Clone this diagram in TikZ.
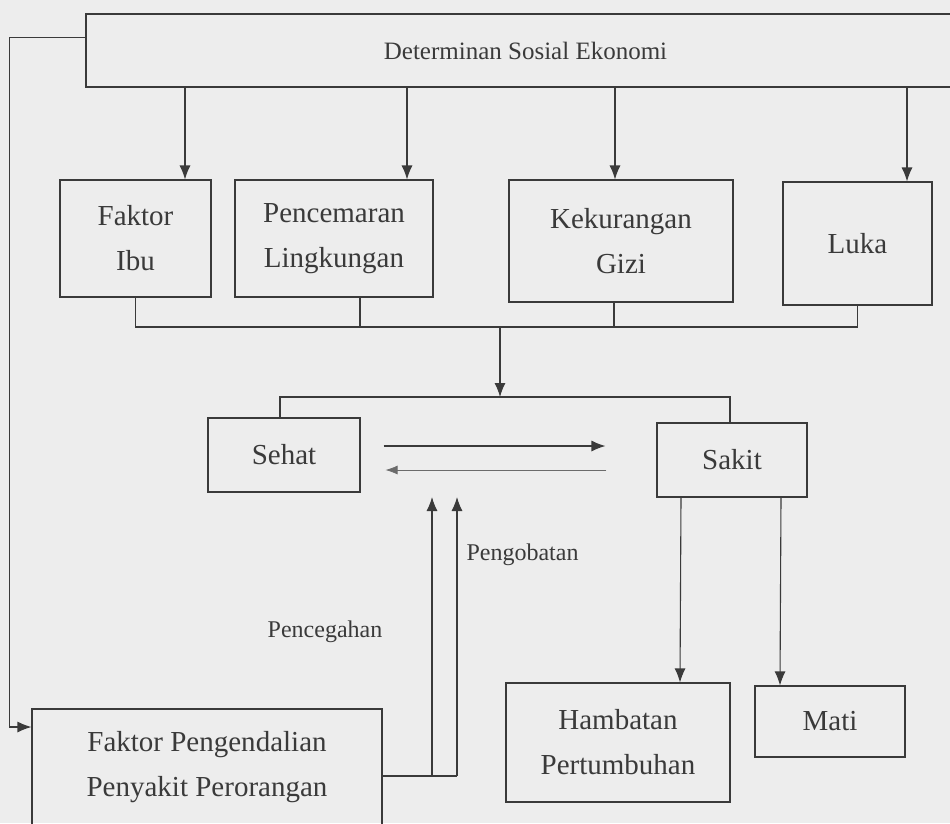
\documentclass[tikz,border=0pt]{standalone}
\usepackage{fontspec}
\setmainfont{Liberation Serif}
\usetikzlibrary{arrows.meta}
\definecolor{ink}{HTML}{3A3A3A}
\definecolor{paper}{HTML}{EDEDED}
\tikzset{
  box/.style={draw=ink,line width=1.1pt,inner sep=0pt,align=center,text=ink,font=\fontsize{29}{45}\selectfont},
  wire/.style={draw=ink,line width=1.1pt},
  arr/.style={wire,-{Latex[length=14pt,width=11pt]}},
  lbl/.style={text=ink,font=\fontsize{24}{28}\selectfont}
}
\begin{document}
\begin{tikzpicture}[x=1pt,y=-1pt]
\useasboundingbox (0,0) rectangle (950,823);
\fill[paper] (0,0) rectangle (950,823);
\clip (0,0) rectangle (950,823);
\node[box,minimum width=879pt,minimum height=73pt,font=\fontsize{25}{30}\selectfont] (det) at (525.5,50.5) {Determinan Sosial Ekonomi};
\node[box,minimum width=151pt,minimum height=117pt] (ibu) at (135.5,238.5) {Faktor\\Ibu};
\node[box,minimum width=198pt,minimum height=117pt] (pcm) at (334,238.5) {Pencemaran\\Lingkungan};
\node[box,minimum width=224pt,minimum height=122pt] (gizi) at (621,241) {Kekurangan\\Gizi};
\node[box,minimum width=149pt,minimum height=123pt] (luka) at (857.5,243.5) {Luka};
\node[box,minimum width=152pt,minimum height=74pt] (sehat) at (284,455) {Sehat};
\node[box,minimum width=150pt,minimum height=74pt] (sakit) at (732,460) {Sakit};
\node[box,minimum width=224pt,minimum height=119pt] (hmb) at (618,742.5) {Hambatan\\Pertumbuhan};
\node[box,minimum width=150pt,minimum height=71pt] (mati) at (830,721.5) {Mati};
\node[box,minimum width=350pt,minimum height=116pt] (fpp) at (207,767) {Faktor Pengendalian\\Penyakit Perorangan};
\node[lbl] (pcg) at (325,632) {Pencegahan};
\node[lbl,anchor=west] (pgb) at (463,555) {Pengobatan};
\draw[arr] ([xshift=-340.5pt]det.south) -- ([xshift=49.5pt]ibu.north);
\draw[arr] ([xshift=-118.5pt]det.south) -- ([xshift=73pt]pcm.north);
\draw[arr] ([xshift=89.5pt]det.south) -- ([xshift=-6pt]gizi.north);
\draw[arr] ([xshift=381.5pt]det.south) -- ([xshift=49.5pt]luka.north);
\coordinate (bus) at (500,327);
\coordinate (split) at (500,397);
\draw[wire] (ibu.south) |- (bus);
\draw[wire] ([xshift=26pt]pcm.south) |- (bus);
\draw[wire] ([xshift=-7pt]gizi.south) |- (bus);
\draw[wire] (luka.south) |- (bus);
\draw[arr] (bus) -- (split);
\draw[wire] ([xshift=-4pt]sehat.north) |- (split);
\draw[wire] ([xshift=-2pt]sakit.north) |- (split);
\draw[arr] ([xshift=23pt,yshift=9pt]sehat.east) -- ([xshift=-51pt,yshift=14pt]sakit.west);
\draw[draw=ink!75,line width=0.7pt,-{Latex[length=12pt,width=9pt]}] ([xshift=-50pt,yshift=-10pt]sakit.west) -- ([xshift=25pt,yshift=-15pt]sehat.east);
\draw[arr] ([xshift=-51pt]sakit.south) -- ([xshift=62pt]hmb.north);
\draw[arr] ([xshift=49pt]sakit.south) -- ([xshift=-50pt]mati.north);
\draw[arr] ([yshift=13pt]det.west) -- ++(-76,0) |- ([yshift=40pt]fpp.west);
\coordinate (pc) at (432,497);
\coordinate (po) at (457,497);
\coordinate (fj) at ([yshift=-9pt]fpp.east);
\draw[wire] (fj) -- (fj -| po);
\draw[arr] (fj -| pc) -- (pc);
\draw[arr] (fj -| po) -- (po);
\end{tikzpicture}
\end{document}
